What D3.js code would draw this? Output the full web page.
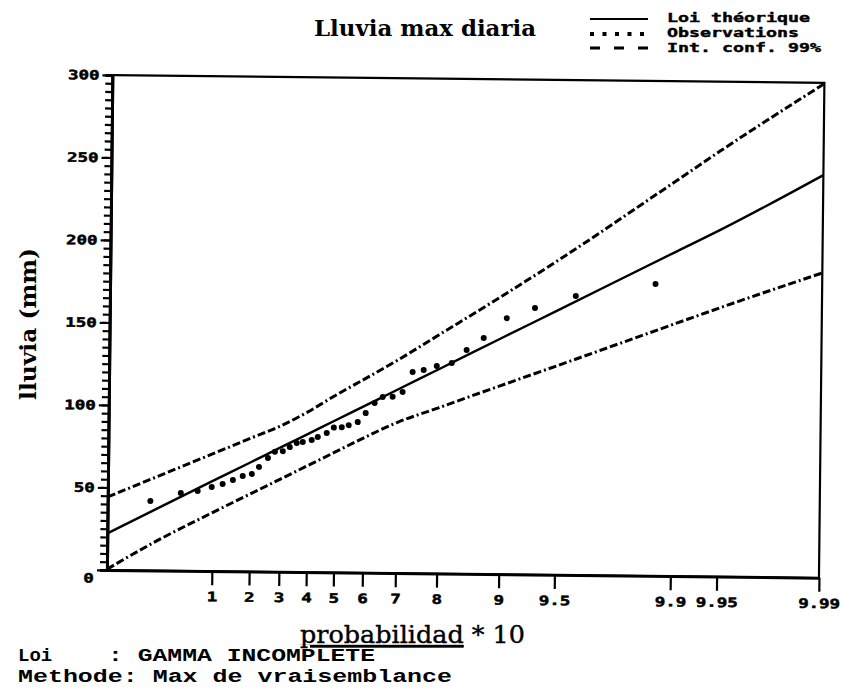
<!DOCTYPE html>
<html>
<head>
<meta charset="utf-8">
<script src="https://cdn.jsdelivr.net/npm/d3@7"></script>
<style>
  body { margin: 0; background: #fff; }
  svg { display: block; }
  .mono { font-family: "DejaVu Sans Mono", monospace; font-weight: bold; }
  .type { font-family: "Liberation Mono", "DejaVu Sans Mono", monospace; font-weight: bold; }
</style>
</head>
<body>
<svg id="chart" width="843" height="690"></svg>
<script>
// probabilidad * 10 on the x axis
const probTicks = [1, 2, 3, 4, 5, 6, 7, 8, 9, 9.5, 9.9, 9.95, 9.99];
const yTicks = [0, 50, 100, 150, 200, 250, 300];

// observations
const obsProb = [0.150, 0.439, 0.700, 0.977, 1.230, 1.495, 1.774, 2.051, 2.278, 2.575,
    2.814, 3.094, 3.343, 3.598, 3.819, 4.150, 4.372, 4.700, 4.955, 5.240,
    5.482, 5.789, 6.049, 6.333, 6.578, 6.869, 7.142, 7.398, 7.666, 7.956,
    8.254, 8.513, 8.772, 9.061, 9.335, 9.607, 9.870];
const obsValue = [42.1, 47.2, 48.5, 51.0, 52.9, 55.4, 57.9, 59.2, 63.5, 68.9,
    72.8, 73.2, 75.7, 78.2, 78.9, 80.1, 82.0, 84.5, 87.8, 88.1,
    89.4, 91.3, 96.8, 103.0, 106.7, 106.9, 109.9, 122.0, 123.3, 125.8,
    127.7, 135.7, 143.1, 155.3, 161.6, 169.2, 177.0];

// fitted law and 99% band
const curveProb = [0.015, 0.2, 1, 2, 3, 4, 5, 6, 7, 8, 9, 9.5, 9.9, 9.95, 9.99];
const theoValue = [22.2, 37.7, 54.7, 66.1, 75.3, 83.7, 92.1, 101.0, 111.2, 123.9, 143.1, 160.2, 196.0, 210.2, 244.1];
const upperValue = [44.3, 57.1, 71.2, 80.8, 88.4, 97.2, 107.3, 117.4, 129.1, 144.8, 168.5, 190.5, 238.9, 258.4, 299.5];
const lowerValue = [0.5, 18.1, 35.5, 47.0, 56.1, 64.5, 72.9, 81.8, 91.3, 100.5, 114.4, 126.7, 152.6, 162.9, 184.8];

const legendLabels = ["Loi théorique", "Observations", "Int. conf. 99%"];

const margin = { top: 75, right: 24, bottom: 120, left: 107 };
const width = 843, height = 690;
const skew = 0.63; // the scanned sheet is a little turned

// gamma probability paper (Wilson-Hilferty)
const gammaShape = 8;
function probit(p) {
    const q = p < 0.5 ? p : 1 - p;
    const t = Math.sqrt(-2 * Math.log(q));
    const z = t - (2.515517 + 0.802853 * t + 0.010328 * t * t) /
        (1 + 1.432788 * t + 0.189269 * t * t + 0.001308 * t * t * t);
    return p < 0.5 ? -z : z;
}
function reduced(p10) {
    const z = probit(p10 / 10);
    return Math.pow(1 - 1 / (9 * gammaShape) + z / (3 * Math.sqrt(gammaShape)), 3);
}

const svg = d3.select("#chart");

const x = d3.scaleLinear()
    .domain([reduced(curveProb[0]), reduced(probTicks[probTicks.length - 1])])
    .range([margin.left, width - margin.right]);
const y = d3.scaleLinear()
    .domain([0, 300])
    .range([height - margin.bottom, margin.top]);

const x0 = margin.left, yBase = height - margin.bottom;
const plot = svg.append("g").attr("transform", `rotate(${skew} ${x0} ${yBase})`);

// frame
plot.append("rect")
    .attr("x", x0).attr("y", margin.top)
    .attr("width", width - margin.right - x0)
    .attr("height", yBase - margin.top)
    .attr("fill", "none").attr("stroke", "#000").attr("stroke-width", 2.2);

// x axis
plot.append("g")
    .attr("transform", `translate(0,${yBase})`)
    .call(d3.axisBottom(x)
        .tickValues(probTicks.map(reduced))
        .tickFormat((d, i) => probTicks[i])
        .tickSize(14).tickSizeOuter(0).tickPadding(7));

// y axis: minor then major ticks
plot.append("g")
    .attr("transform", `translate(${x0},0)`)
    .call(d3.axisLeft(y).tickValues(d3.range(0, 301, 5)).tickSize(7).tickFormat(""));
const yAxis = plot.append("g")
    .attr("transform", `translate(${x0},0)`)
    .call(d3.axisLeft(y).tickValues(yTicks).tickSize(10).tickPadding(3).tickSizeOuter(0));

plot.selectAll(".domain").attr("stroke", "#000").attr("stroke-width", 2.8);
plot.selectAll(".tick line").attr("stroke", "#000").attr("stroke-width", 2.2);
plot.selectAll(".tick text")
    .attr("class", "mono")
    .attr("font-size", 13)
    .attr("fill", "#000")
    .attr("stroke", "#000").attr("stroke-width", 0.5)
    .attr("textLength", function () { return this.textContent.length * 10.5; })
    .attr("lengthAdjust", "spacingAndGlyphs");
yAxis.selectAll(".tick text").filter(d => d === 0).attr("dy", "0.95em");

// curves
const line = d3.line()
    .x(d => x(reduced(d[0])))
    .y(d => y(d[1]))
    .curve(d3.curveMonotoneX);

const band = [
    { values: upperValue, dash: "8 3 8 3 2 3", w: 3 },
    { values: lowerValue, dash: "8 3 8 3 2 3", w: 3 },
    { values: theoValue, dash: null, w: 2.4 }
];
band.forEach(b => {
    plot.append("path")
        .datum(curveProb.map((p, i) => [p, b.values[i]]))
        .attr("d", line)
        .attr("fill", "none")
        .attr("stroke", "#000")
        .attr("stroke-width", b.w)
        .attr("stroke-dasharray", b.dash);
});

plot.append("g")
    .selectAll("circle")
    .data(obsProb.map((p, i) => [p, obsValue[i]]))
    .enter().append("circle")
    .attr("cx", d => x(reduced(d[0])))
    .attr("cy", d => y(d[1]))
    .attr("r", 3)
    .attr("fill", "#000");

// title
svg.append("text")
    .attr("x", 314).attr("y", 36)
    .attr("font-family", "DejaVu Serif")
    .attr("font-weight", "bold")
    .attr("font-size", 23)
    .attr("textLength", 222).attr("lengthAdjust", "spacingAndGlyphs")
    .text("Lluvia max diaria");

// legend
const leg = svg.append("g");
leg.append("line").attr("x1", 590).attr("x2", 648).attr("y1", 19).attr("y2", 19)
    .attr("stroke", "#000").attr("stroke-width", 2.2);
leg.append("line").attr("x1", 590).attr("x2", 650).attr("y1", 34).attr("y2", 34)
    .attr("stroke", "#000").attr("stroke-width", 4).attr("stroke-dasharray", "4 8.5");
leg.append("line").attr("x1", 590).attr("x2", 650).attr("y1", 48).attr("y2", 48)
    .attr("stroke", "#000").attr("stroke-width", 3).attr("stroke-dasharray", "10 14");
leg.selectAll("text")
    .data(legendLabels)
    .enter().append("text")
    .attr("class", "mono")
    .attr("x", 667)
    .attr("y", (d, i) => 22 + i * 15)
    .attr("font-size", 12)
    .attr("stroke", "#000").attr("stroke-width", 0.4)
    .attr("textLength", d => d.length * 11)
    .attr("lengthAdjust", "spacingAndGlyphs")
    .text(d => d);

// axis titles
svg.append("text")
    .attr("transform", "translate(36,324) rotate(-90)")
    .attr("text-anchor", "middle")
    .attr("font-family", "DejaVu Serif")
    .attr("font-weight", "bold")
    .attr("font-size", 22)
    .attr("textLength", 152).attr("lengthAdjust", "spacingAndGlyphs")
    .text("lluvia (mm)");

const xt = svg.append("text")
    .attr("x", 300).attr("y", 643)
    .attr("font-family", "DejaVu Serif")
    .attr("font-size", 25)
    .attr("stroke", "#000").attr("stroke-width", 0.4)
    .attr("textLength", 225).attr("lengthAdjust", "spacingAndGlyphs");
xt.append("tspan").attr("text-decoration", "underline").text("probabilidad");
xt.append("tspan").text(" * 10");

// footer
svg.append("text").attr("class", "type")
    .attr("x", 18).attr("y", 661).attr("font-size", 19)
    .text("Loi");
svg.append("text").attr("class", "type")
    .attr("x", 108).attr("y", 661).attr("font-size", 18)
    .attr("textLength", 267).attr("lengthAdjust", "spacingAndGlyphs")
    .text(": GAMMA INCOMPLETE");
svg.append("text").attr("class", "type")
    .attr("x", 18).attr("y", 682).attr("font-size", 19)
    .attr("textLength", 434).attr("lengthAdjust", "spacingAndGlyphs")
    .text("Methode: Max de vraisemblance");
</script>
</body>
</html>
